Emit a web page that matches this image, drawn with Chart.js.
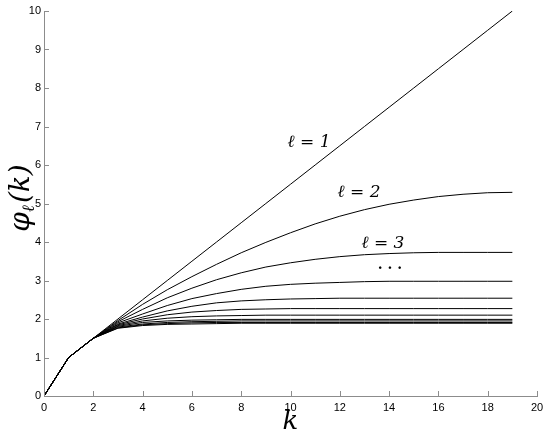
<!DOCTYPE html>
<html>
<head>
<meta charset="utf-8">
<script src="https://cdn.jsdelivr.net/npm/chart.js@4/dist/chart.umd.min.js"></script>
<style>
  html, body { margin: 0; padding: 0; background: #fff; }
  #wrap { width: 545px; height: 433px; position: relative; }
</style>
</head>
<body>
<div id="wrap"><canvas id="c" width="545" height="433"></canvas></div>
<script>
// k values (x axis)
const kValues = [0,1,2,3,4,5,6,7,8,9,10,11,12,13,14,15,16,17,18,19];

// phi_l(k) series, l = 1 .. 11
const phi1  = [0,1,1.5,2.00,2.50,3.00,3.50,4.00,4.50,5.00,5.50,6.00,6.50,7.00,7.50,8.00,8.50,9.00,9.50,10.00];
const phi2  = [0,1,1.5,1.96,2.38,2.76,3.10,3.42,3.72,3.99,4.24,4.47,4.67,4.84,4.98,5.09,5.18,5.24,5.28,5.29];
const phi3  = [0,1,1.5,1.93,2.25,2.55,2.80,3.02,3.20,3.35,3.46,3.55,3.62,3.67,3.70,3.72,3.73,3.73,3.73,3.73];
const phi4  = [0,1,1.5,1.90,2.13,2.35,2.53,2.66,2.77,2.85,2.90,2.93,2.95,2.97,2.98,2.98,2.98,2.98,2.98,2.98];
const phi5  = [0,1,1.5,1.87,2.05,2.21,2.33,2.42,2.47,2.50,2.52,2.53,2.54,2.54,2.54,2.54,2.54,2.54,2.54,2.54];
const phi6  = [0,1,1.5,1.85,2.00,2.11,2.18,2.22,2.25,2.26,2.27,2.27,2.27,2.27,2.27,2.27,2.27,2.27,2.27,2.27];
const phi7  = [0,1,1.5,1.83,1.95,2.02,2.06,2.08,2.09,2.10,2.10,2.10,2.10,2.10,2.10,2.10,2.10,2.10,2.10,2.10];
const phi8  = [0,1,1.5,1.81,1.91,1.95,1.97,1.98,1.99,1.99,1.99,1.99,1.99,1.99,1.99,1.99,1.99,1.99,1.99,1.99];
const phi9  = [0,1,1.5,1.79,1.87,1.91,1.93,1.94,1.95,1.95,1.95,1.95,1.95,1.95,1.95,1.95,1.95,1.95,1.95,1.95];
const phi10 = [0,1,1.5,1.77,1.85,1.88,1.90,1.91,1.91,1.91,1.91,1.91,1.91,1.91,1.91,1.91,1.91,1.91,1.91,1.91];
const phi11 = [0,1,1.5,1.76,1.83,1.86,1.87,1.88,1.89,1.89,1.89,1.89,1.89,1.89,1.89,1.89,1.89,1.89,1.89,1.89];

const allSeries = [phi1,phi2,phi3,phi4,phi5,phi6,phi7,phi8,phi9,phi10,phi11];

// axis ticks
const xTicks = [0,2,4,6,8,10,12,14,16,18,20];
const yTicks = [0,1,2,3,4,5,6,7,8,9,10];

// curve annotations: [text, k, value]
const annotations = [
  ["\u2113 = 1", 10.75, 6.57],
  ["\u2113 = 2", 12.78, 5.28],
  ["\u2113 = 3", 13.75, 3.97],
  ["\u00B7 \u00B7 \u00B7", 14.03, 3.30]
];

const datasets = allSeries.map((s, i) => ({
  label: "\u2113 = " + (i + 1),
  data: s.map((v, j) => ({ x: kValues[j], y: v })),
  borderColor: "#000",
  borderWidth: 1,
  pointRadius: 0,
  tension: 0,
  fill: false
}));

const AXIS_COLOR = "#8c8c8c";

const decor = {
  id: "decor",
  afterDraw(chart) {
    const ctx = chart.ctx;
    const xs = chart.scales.x, ys = chart.scales.y;
    const area = chart.chartArea;
    ctx.save();
    // inward tick marks
    ctx.strokeStyle = AXIS_COLOR;
    ctx.lineWidth = 1;
    ctx.beginPath();
    xTicks.forEach(t => {
      const px = Math.round(xs.getPixelForValue(t)) + 0.5;
      ctx.moveTo(px, area.bottom);
      ctx.lineTo(px, area.bottom - 5);
    });
    yTicks.forEach(t => {
      const py = Math.round(ys.getPixelForValue(t)) + 0.5;
      ctx.moveTo(area.left, py);
      ctx.lineTo(area.left + 5, py);
    });
    ctx.stroke();

    // annotations
    ctx.fillStyle = "#000";
    ctx.textAlign = "center";
    ctx.textBaseline = "middle";
    annotations.forEach(([txt, k, v]) => {
      const px = xs.getPixelForValue(k), py = ys.getPixelForValue(v);
      if (txt.indexOf("\u00B7") >= 0) {
        ctx.font = "bold 14px 'DejaVu Serif'";
      } else {
        ctx.font = "italic 17px 'DejaVu Serif'";
      }
      ctx.fillText(txt, px, py);
    });

    // x axis title
    ctx.font = "italic 26px 'DejaVu Serif'";
    ctx.textAlign = "center";
    ctx.textBaseline = "alphabetic";
    ctx.fillText("k", (area.left + area.right) / 2, 429);

    // y axis title: phi_l(k), rotated
    ctx.translate(22, 198);
    ctx.rotate(-Math.PI / 2);
    ctx.textBaseline = "middle";
    ctx.textAlign = "left";
    const big = "italic 28px 'DejaVu Serif'";
    const small = "italic 17px 'DejaVu Serif'";
    ctx.font = big;
    const w1 = ctx.measureText("\u03C6").width;
    ctx.font = small;
    const w2 = ctx.measureText("\u2113").width;
    ctx.font = big;
    const w3 = ctx.measureText("(k)").width;
    let x0 = -(w1 + w2 + w3 + 2) / 2;
    ctx.font = big;
    ctx.fillText("\u03C6", x0, 0);
    ctx.font = small;
    ctx.fillText("\u2113", x0 + w1, 8);
    ctx.font = big;
    ctx.fillText("(k)", x0 + w1 + w2 + 2, 0);
    ctx.restore();
  }
};

new Chart(document.getElementById("c"), {
  type: "line",
  data: { datasets },
  options: {
    responsive: false,
    animation: false,
    devicePixelRatio: 1,
    layout: { padding: { left: 0, top: 11, right: 0, bottom: 0 } },
    plugins: { legend: { display: false }, tooltip: { enabled: false } },
    scales: {
      x: {
        type: "linear",
        min: 0, max: 20,
        afterBuildTicks: s => { s.ticks = xTicks.map(v => ({ value: v })); },
        afterFit: s => { s.height = 37; s.paddingRight = 8; },
        grid: { display: true, drawOnChartArea: false, drawTicks: false },
        border: { display: true, color: AXIS_COLOR, width: 1 },
        ticks: { color: "#000", font: { family: "'Liberation Sans', Arial", size: 11 }, padding: 5, maxRotation: 0 }
      },
      y: {
        type: "linear",
        min: 0, max: 10,
        afterBuildTicks: s => { s.ticks = yTicks.map(v => ({ value: v })); },
        afterFit: s => { s.width = 44; },
        grid: { display: true, drawOnChartArea: false, drawTicks: false },
        border: { display: true, color: AXIS_COLOR, width: 1 },
        ticks: { color: "#000", font: { family: "'Liberation Sans', Arial", size: 11 }, padding: 3 }
      }
    }
  },
  plugins: [decor]
});
</script>
</body>
</html>
